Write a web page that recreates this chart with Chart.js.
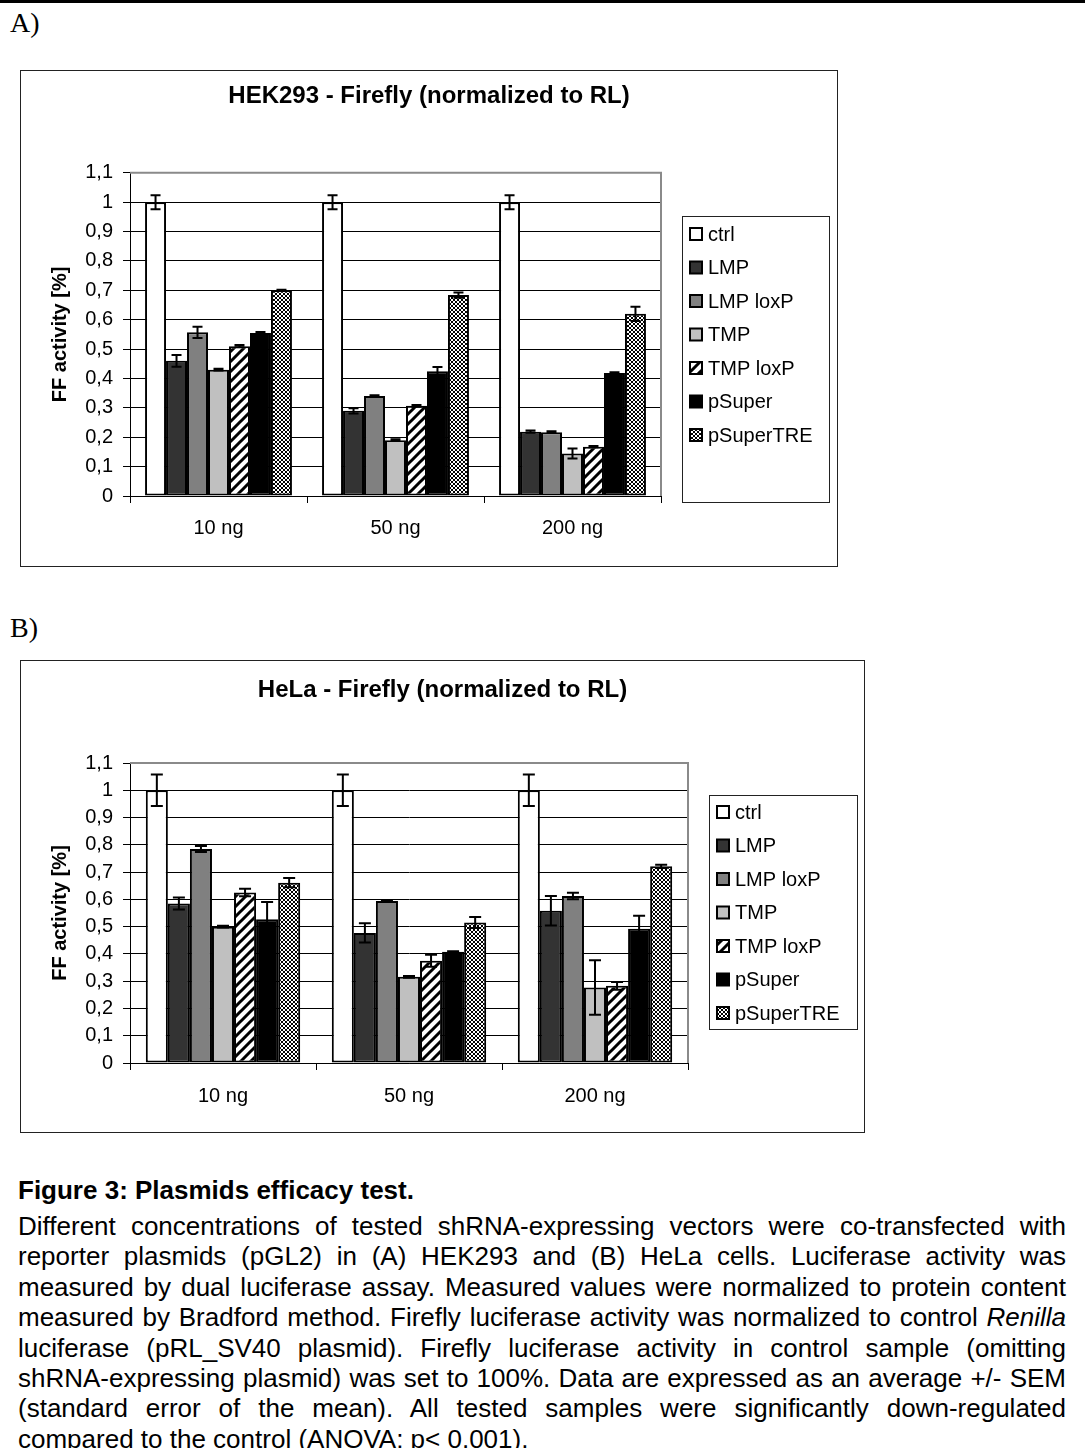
<!DOCTYPE html>
<html>
<head>
<meta charset="utf-8">
<script src="https://cdn.jsdelivr.net/npm/chart.js@4.4.0/dist/chart.umd.min.js"></script>
<style>
    body { margin: 0; background: #fff; width: 1085px; height: 1448px; position: relative; overflow: hidden; font-family: "Liberation Sans", Arial, sans-serif; color: #000; }
    .rule { position: absolute; left: 0; top: 0; width: 1085px; height: 3px; background: #000; }
    .panel { position: absolute; left: 10px; font-family: "Liberation Serif", "Times New Roman", serif; font-size: 28px; line-height: 28px; }
    .box { position: absolute; left: 20px; border: 1px solid #222; background: #fff; }
    .box canvas { display: block; }
    .caption-head { position: absolute; left: 18px; top: 1175px; font-size: 26px; line-height: 30px; font-weight: bold; }
    .caption { position: absolute; left: 18px; top: 1211px; width: 1048px; font-size: 26px; line-height: 30.4px; text-align: justify; margin: 0; }
</style>
</head>
<body>
<div class="rule"></div>
<div class="panel" style="top:9px">A)</div>
<div class="box" style="top:70px; width:816px; height:495px"><canvas id="chartA" width="816" height="495"></canvas></div>
<div class="panel" style="top:614px">B)</div>
<div class="box" style="top:660px; width:843px; height:471px"><canvas id="chartB" width="843" height="471"></canvas></div>
<div class="caption-head">Figure 3: Plasmids efficacy test.</div>
<p class="caption">Different concentrations of tested shRNA-expressing vectors were co-transfected with reporter plasmids (pGL2) in (A) HEK293 and (B) HeLa cells. Luciferase activity was measured by dual luciferase assay. Measured values were normalized to protein content measured by Bradford method. Firefly luciferase activity was normalized to control <i>Renilla</i> luciferase (pRL_SV40 plasmid). Firefly luciferase activity in control sample (omitting shRNA-expressing plasmid) was set to 100%. Data are expressed as an average +/- SEM (standard error of the mean). All tested samples were significantly down-regulated compared to the control (ANOVA; p&lt; 0.001).</p>

<script>
// Categories and series
const doses = ['10 ng', '50 ng', '200 ng'];
const vectors = ['ctrl', 'LMP', 'LMP loxP', 'TMP', 'TMP loxP', 'pSuper', 'pSuperTRE'];

// HEK293 - mean per dose, in vector order
const hek10 = [1.00, 0.460, 0.557, 0.430, 0.510, 0.555, 0.700];
const hek50 = [1.00, 0.290, 0.340, 0.190, 0.307, 0.425, 0.684];
const hek200 = [1.00, 0.219, 0.217, 0.145, 0.168, 0.419, 0.620];
// HEK293 - SEM
const hekErr10 = [0.024, 0.020, 0.019, 0.003, 0.004, 0.003, 0.002];
const hekErr50 = [0.024, 0.009, 0.003, 0.003, 0.003, 0.014, 0.009];
const hekErr200 = [0.024, 0.004, 0.003, 0.017, 0.002, 0.002, 0.024];

// HeLa - mean per dose
const hela10 = [1.00, 0.585, 0.785, 0.500, 0.625, 0.527, 0.661];
const hela50 = [1.00, 0.477, 0.594, 0.316, 0.375, 0.408, 0.515];
const hela200 = [1.00, 0.558, 0.612, 0.277, 0.283, 0.492, 0.721];
// HeLa - SEM
const helaErr10 = [0.058, 0.022, 0.011, 0.003, 0.014, 0.063, 0.017];
const helaErr50 = [0.058, 0.035, 0.004, 0.003, 0.022, 0.002, 0.020];
const helaErr200 = [0.058, 0.054, 0.012, 0.100, 0.014, 0.048, 0.006];

const FONT = '"Liberation Sans", Arial, sans-serif';

// Excel-like fills: stripes and small checker board
function stripes() {
    const c = document.createElement('canvas');
    c.width = 10; c.height = 10;
    const g = c.getContext('2d');
    g.fillStyle = '#fff';
    g.fillRect(0, 0, 10, 10);
    g.strokeStyle = '#000';
    g.lineWidth = 3;
    g.beginPath();
    g.moveTo(-2, 12); g.lineTo(12, -2);
    g.moveTo(-7, 7); g.lineTo(7, -7);
    g.moveTo(3, 17); g.lineTo(17, 3);
    g.stroke();
    return g.createPattern(c, 'repeat');
}

function checker() {
    const c = document.createElement('canvas');
    c.width = 4; c.height = 4;
    const g = c.getContext('2d');
    g.fillStyle = '#fff';
    g.fillRect(0, 0, 4, 4);
    g.fillStyle = '#000';
    g.fillRect(0, 0, 2, 2);
    g.fillRect(2, 2, 2, 2);
    return g.createPattern(c, 'repeat');
}

const fills = ['#ffffff', '#333333', '#808080', '#c0c0c0', stripes(), '#000000', checker()];

// error bars (+/- SEM) drawn from the y scale
const errorBars = {
    id: 'errorBars',
    afterDatasetsDraw(chart, args, opts) {
        const ctx = chart.ctx;
        const y = chart.scales.y;
        ctx.save();
        ctx.strokeStyle = '#000';
        ctx.lineWidth = 2;
        chart.data.datasets.forEach((ds, i) => {
            chart.getDatasetMeta(i).data.forEach((bar, j) => {
                const top = y.getPixelForValue(ds.data[j] + ds.errors[j]);
                const bot = y.getPixelForValue(ds.data[j] - ds.errors[j]);
                ctx.beginPath();
                ctx.moveTo(bar.x, top); ctx.lineTo(bar.x, bot);
                ctx.moveTo(bar.x - opts.cap, top); ctx.lineTo(bar.x + opts.cap, top);
                ctx.moveTo(bar.x - opts.cap, bot); ctx.lineTo(bar.x + opts.cap, bot);
                ctx.stroke();
            });
        });
        ctx.restore();
    }
};

// gray frame on top and right of the plot area
const plotFrame = {
    id: 'plotFrame',
    beforeDatasetsDraw(chart) {
        const {ctx, chartArea: a} = chart;
        ctx.save();
        ctx.strokeStyle = '#8a8a8a';
        ctx.lineWidth = 2;
        ctx.beginPath();
        ctx.moveTo(a.left, a.top);
        ctx.lineTo(a.right, a.top);
        ctx.lineTo(a.right, a.bottom);
        ctx.stroke();
        ctx.restore();
    }
};

// boxed legend that sits in its own layout box on the right
const boxedLegend = {
    id: 'boxedLegend',
    beforeInit(chart) {
        const o = chart.options.plugins.boxedLegend;
        const box = {
            position: 'right', weight: 0, fullSize: false,
            options: {},
            left: 0, top: 0, right: 0, bottom: 0, width: 0, height: 0,
            isHorizontal() { return false; },
            update(maxWidth, maxHeight) { this.width = o.width; this.height = maxHeight; },
            draw() {
                const ctx = chart.ctx;
                const x0 = this.left + o.offset;
                ctx.save();
                ctx.strokeStyle = '#222';
                ctx.lineWidth = 1;
                ctx.strokeRect(x0 + 0.5, o.top + 0.5, o.boxW, o.boxH);
                ctx.font = '20px ' + FONT;
                ctx.textBaseline = 'middle';
                chart.data.datasets.forEach((ds, i) => {
                    const cy = o.top + o.first + i * o.gap;
                    ctx.fillStyle = ds.backgroundColor;
                    ctx.fillRect(x0 + 8, cy - 6, 12, 12);
                    ctx.strokeStyle = '#000';
                    ctx.lineWidth = 2;
                    ctx.strokeRect(x0 + 8, cy - 6, 12, 12);
                    ctx.fillStyle = '#000';
                    ctx.fillText(ds.label, x0 + 26, cy + 1);
                });
                ctx.restore();
            }
        };
        Chart.layouts.addBox(chart, box);
    }
};

function makeChart(id, title, means, errs, look) {
    const datasets = vectors.map((name, s) => ({
        label: name,
        data: means.map(row => row[s]),
        errors: errs.map(row => row[s]),
        backgroundColor: fills[s],
        borderColor: '#000',
        borderWidth: 2,
        borderSkipped: false,
        categoryPercentage: 0.83,
        barPercentage: 1.0
    }));

    return new Chart(document.getElementById(id), {
        type: 'bar',
        data: { labels: doses, datasets: datasets },
        plugins: [plotFrame, errorBars, boxedLegend],
        options: {
            responsive: false,
            animation: false,
            events: [],
            layout: { padding: { left: 0, right: 0, top: 0, bottom: look.bottomPad } },
            scales: {
                x: {
                    grid: { offset: true, drawOnChartArea: false, tickLength: 7, color: '#000', lineWidth: 1 },
                    border: { color: '#000', width: 1 },
                    ticks: { color: '#000', padding: look.xPad, font: { family: FONT, size: 20 } }
                },
                y: {
                    min: 0,
                    max: 1.1,
                    afterFit(scale) { scale.width = 109; },
                    grid: {
                        color: ctx => (ctx.tick && ctx.tick.value > 1.05 ? 'rgba(0,0,0,0)' : '#000'),
                        tickColor: '#000',
                        tickLength: 7,
                        lineWidth: 1
                    },
                    border: { color: '#000', width: 1 },
                    ticks: {
                        stepSize: 0.1,
                        autoSkip: false,
                        color: '#000',
                        padding: 10,
                        font: { family: FONT, size: 20 },
                        callback: v => String(Math.round(v * 10) / 10).replace('.', ',')
                    },
                    title: {
                        display: true,
                        text: 'FF activity [%]',
                        color: '#000',
                        font: { family: FONT, size: 20, weight: 'bold' },
                        padding: { top: 27, bottom: 0 }
                    }
                }
            },
            plugins: {
                legend: { display: false },
                tooltip: { enabled: false },
                title: {
                    display: true,
                    text: title,
                    color: '#000',
                    font: { family: FONT, size: 24, weight: 'bold' },
                    padding: { top: look.titleTop, bottom: look.titleBottom }
                },
                errorBars: { cap: look.cap },
                boxedLegend: look.legend
            }
        }
    });
}

makeChart('chartA', 'HEK293 - Firefly (normalized to RL)',
    [hek10, hek50, hek200], [hekErr10, hekErr50, hekErr200],
    { bottomPad: 13, xPad: 13, titleTop: 11, titleBottom: 62, cap: 5,
      legend: { width: 176, offset: 21, top: 145, boxW: 147, boxH: 286, first: 18, gap: 33.5 } });

makeChart('chartB', 'HeLa - Firefly (normalized to RL)',
    [hela10, hela50, hela200], [helaErr10, helaErr50, helaErr200],
    { bottomPad: 10, xPad: 14, titleTop: 14.6, titleBottom: 58.6, cap: 6,
      legend: { width: 176, offset: 21, top: 134, boxW: 148, boxH: 234, first: 17, gap: 33.5 } });
</script>
</body>
</html>
